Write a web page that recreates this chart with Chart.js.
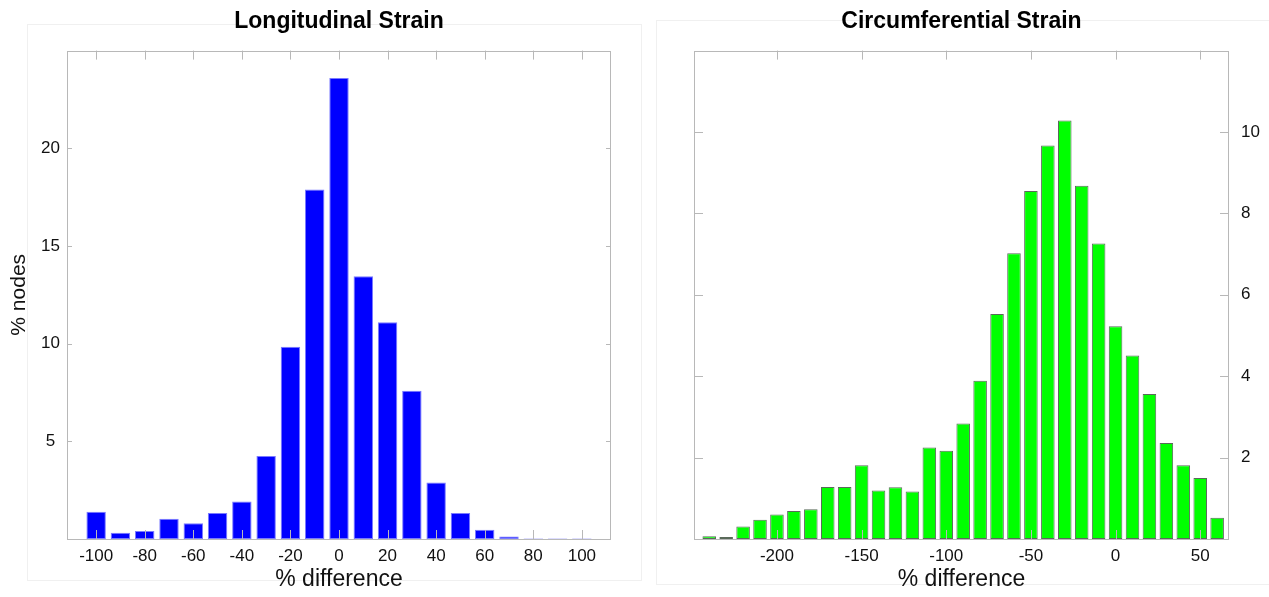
<!DOCTYPE html>
<html>
<head>
<meta charset="utf-8">
<script src="https://cdn.jsdelivr.net/npm/chart.js@4"></script>
<style>
  body { margin: 0; background: #fff; overflow: hidden; }
  .wrap { position: relative; width: 1269px; height: 597px; }
  .frame { position: absolute; border: 1px solid #f0f0f0; }
  canvas { position: absolute; top: 0; }
</style>
</head>
<body>
<div class="wrap">
  <div class="frame" style="left:27px;top:24px;width:613px;height:555px"></div>
  <div class="frame" style="left:656px;top:20px;width:640px;height:563px"></div>
  <canvas id="longChart" width="645" height="597" style="left:0;width:645px;height:597px"></canvas>
  <canvas id="circChart" width="619" height="597" style="left:650px;width:619px;height:597px"></canvas>
</div>
<script>
// longitudinal strain histogram (bin centres in % difference, heights in % nodes)
const longBins = [-100, -90, -80, -70, -60, -50, -40, -30, -20, -10, 0, 10, 20, 30, 40, 50, 60, 70, 80, 90, 100];
const longValues = [1.39, 0.32, 0.41, 1.04, 0.8, 1.33, 1.92, 4.25, 9.84, 17.89, 23.6, 13.45, 11.1, 7.59, 2.89, 1.33, 0.47, 0.13, 0.03, 0.02, 0.02];
const longXTicks = [-100, -80, -60, -40, -20, 0, 20, 40, 60, 80, 100];
const longYTicks = [5, 10, 15, 20];

// circumferential strain histogram
const circBins = [-240, -230, -220, -210, -200, -190, -180, -170, -160, -150, -140, -130, -120, -110, -100, -90, -80, -70, -60, -50, -40, -30, -20, -10, 0, 10, 20, 30, 40, 50, 60];
const circValues = [0.07, 0.05, 0.31, 0.47, 0.6, 0.69, 0.73, 1.28, 1.28, 1.81, 1.19, 1.27, 1.17, 2.25, 2.17, 2.84, 3.89, 5.53, 7.02, 8.55, 9.67, 10.28, 8.68, 7.26, 5.23, 4.51, 3.56, 2.36, 1.81, 1.5, 0.52];
const circXTicks = [-200, -150, -100, -50, 0, 50];
const circYTicks = [2, 4, 6, 8, 10];

Chart.defaults.font.family = "'Liberation Sans', Arial, sans-serif";
Chart.defaults.color = "#111";

// box round the plot with small inward tick marks (like the original figure)
const boxTicks = {
  id: "boxTicks",
  afterDatasetsDraw(chart, args, opts) {
    const { ctx, chartArea: a, scales } = chart;
    const xs = scales.x;
    const ys = scales.y;
    ctx.save();
    ctx.strokeStyle = "#b8b8b8";
    ctx.lineWidth = 1;
    ctx.strokeRect(Math.round(a.left) + 0.5, Math.round(a.top) + 0.5,
      Math.round(a.right - a.left) - 1, Math.round(a.bottom - a.top));
    ctx.beginPath();
    xs.ticks.forEach((t) => {
      const px = Math.round(xs.getPixelForValue(t.value)) + 0.5;
      ctx.moveTo(px, a.top);
      ctx.lineTo(px, a.top + opts.xLen);
      ctx.moveTo(px, a.bottom);
      ctx.lineTo(px, a.bottom - opts.xLen);
    });
    ys.ticks.forEach((t) => {
      const py = Math.round(ys.getPixelForValue(t.value)) + 0.5;
      ctx.moveTo(a.left, py);
      ctx.lineTo(a.left + opts.yLen, py);
      ctx.moveTo(a.right, py);
      ctx.lineTo(a.right - opts.yLen, py);
    });
    ctx.stroke();
    ctx.restore();
  },
};

const makeHist = (canvasId, cfg) => {
  const ctx = document.getElementById(canvasId);
  return new Chart(ctx.getContext("2d"), {
    type: "bar",
    data: {
      datasets: [
        {
          data: cfg.bins.map((b, i) => ({ x: b, y: cfg.values[i] })),
          backgroundColor: cfg.fill,
          borderColor: cfg.border,
          borderWidth: 1,
          borderSkipped: false,
          categoryPercentage: 1,
          barPercentage: 0.8,
        },
      ],
    },
    options: {
      responsive: false,
      animation: false,
      layout: { padding: cfg.padding },
      plugins: {
        legend: { display: false },
        tooltip: { enabled: false },
        title: {
          display: true,
          text: cfg.title,
          fullSize: false,
          color: "#000",
          font: { size: 23, weight: "bold" },
          padding: { top: 8, bottom: 15 },
        },
        boxTicks: { xLen: 9, yLen: cfg.yTickLen },
      },
      scales: {
        x: {
          type: "linear",
          min: cfg.xMin,
          max: cfg.xMax,
          offset: false,
          grid: { display: false, drawTicks: false },
          border: { display: false },
          afterBuildTicks: (s) => {
            s.ticks = cfg.xTicks.map((v) => ({ value: v }));
          },
          ticks: { autoSkip: false, maxRotation: 0, padding: 7, font: { size: 17 } },
          title: {
            display: true,
            text: "% difference",
            font: { size: 23 },
            padding: { top: 0, bottom: 4 },
          },
          afterFit: (s) => {
            s.height = 58;
          },
        },
        y: {
          position: cfg.yPos,
          min: 0,
          max: cfg.yMax,
          grid: { display: false, drawTicks: false },
          border: { display: false },
          afterBuildTicks: (s) => {
            s.ticks = cfg.yTicks.map((v) => ({ value: v }));
          },
          ticks: { padding: cfg.yPad, crossAlign: cfg.yAlign, font: { size: 17 } },
          title: {
            display: cfg.yTitle !== "",
            text: cfg.yTitle,
            font: { size: 21 },
            padding: { top: 3, bottom: 0 },
          },
          afterFit: (s) => {
            s.width = cfg.yWidth;
          },
        },
      },
    },
    plugins: [boxTicks],
  });
};

makeHist("longChart", {
  title: "Longitudinal Strain",
  bins: longBins,
  values: longValues,
  xTicks: longXTicks,
  yTicks: longYTicks,
  xMin: -112,
  xMax: 112,
  yMax: 25,
  fill: "#0000ff",
  border: "#7a7aff",
  padding: { left: 4, right: 34, top: 0, bottom: 0 },
  yPos: "left",
  yPad: 7,
  yAlign: "center",
  yWidth: 63,
  yTitle: "% nodes",
  yTickLen: 5,
});

makeHist("circChart", {
  title: "Circumferential Strain",
  bins: circBins,
  values: circValues,
  xTicks: circXTicks,
  yTicks: circYTicks,
  xMin: -249,
  xMax: 67,
  yMax: 12,
  fill: "#00ff00",
  border: "#5a6a5a",
  padding: { left: 44, right: 0, top: 0, bottom: 0 },
  yPos: "right",
  yPad: 12,
  yAlign: "near",
  yWidth: 40,
  yTitle: "",
  yTickLen: 9,
});
</script>
</body>
</html>
